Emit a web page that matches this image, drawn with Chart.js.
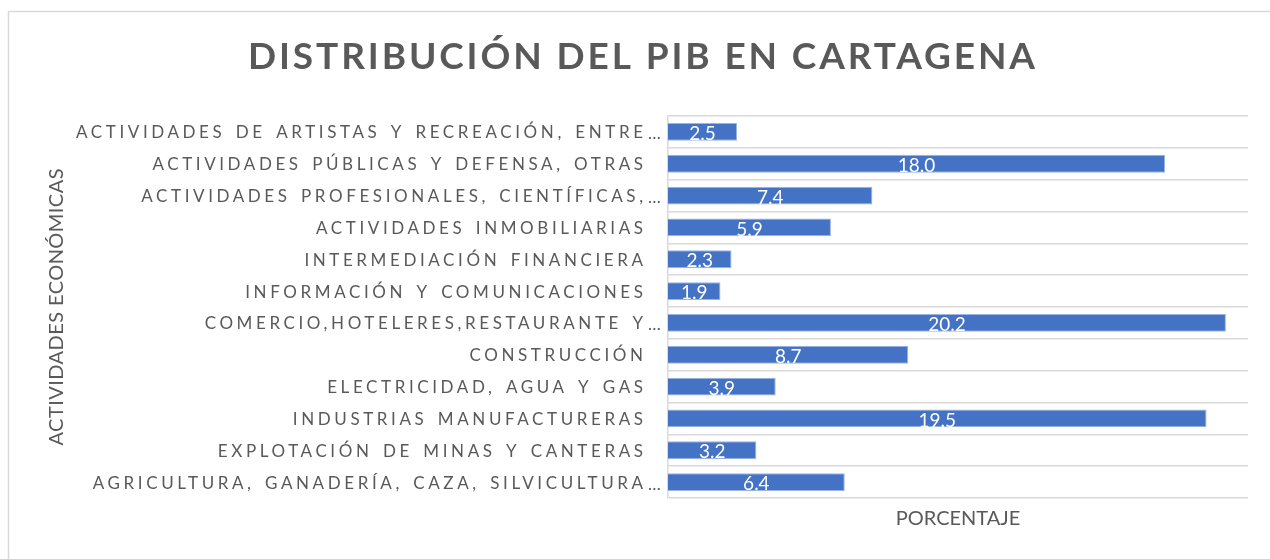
<!DOCTYPE html>
<html>
<head>
<meta charset="utf-8">
<script src="https://cdn.jsdelivr.net/npm/chart.js@4.4.1/dist/chart.umd.min.js"></script>
<style>
html, body { margin: 0; padding: 0; background: #fff; }
canvas { display: block; }
</style>
</head>
<body>
<canvas id="pib" width="1270" height="559"></canvas>
<script>
// datos (porcentaje del PIB por actividad)
var categorias = [
    'ACTIVIDADES DE ARTISTAS Y RECREACIÓN, ENTRE…',
    'ACTIVIDADES PÚBLICAS Y DEFENSA, OTRAS',
    'ACTIVIDADES PROFESIONALES, CIENTÍFICAS,…',
    'ACTIVIDADES INMOBILIARIAS',
    'INTERMEDIACIÓN FINANCIERA',
    'INFORMACIÓN Y COMUNICACIONES',
    'COMERCIO,HOTELERES,RESTAURANTE Y…',
    'CONSTRUCCIÓN',
    'ELECTRICIDAD, AGUA Y GAS',
    'INDUSTRIAS MANUFACTURERAS',
    'EXPLOTACIÓN DE MINAS Y CANTERAS',
    'AGRICULTURA, GANADERÍA, CAZA, SILVICULTURA…'
];
var porcentajes = [2.5, 18.0, 7.4, 5.9, 2.3, 1.9, 20.2, 8.7, 3.9, 19.5, 3.2, 6.4];
var titulo = 'DISTRIBUCIÓN DEL PIB EN CARTAGENA';
var tituloEjeY = 'ACTIVIDADES ECONÓMICAS';
var tituloEjeX = 'PORCENTAJE';

var gris = '#595959';
var fuente = 'Lato, "Open Sans", sans-serif';

// dibuja texto con espaciado entre letras, alineado a la izquierda desde x
function escribir(ctx, texto, x, y, espacio, palabra) {
    ctx.letterSpacing = espacio + 'px';
    ctx.wordSpacing = (palabra || 0) + 'px';
    ctx.textAlign = 'left';
    ctx.fillText(texto, x, y);
    ctx.letterSpacing = '0px';
    ctx.wordSpacing = '0px';
}
function anchoTexto(ctx, texto, espacio, palabra) {
    ctx.letterSpacing = '0px';
    ctx.wordSpacing = '0px';
    var espacios = texto.split(' ').length - 1;
    return ctx.measureText(texto).width + espacio * (texto.length - 1) + (palabra || 0) * espacios;
}

var textosPlugin = {
    id: 'textos',
    beforeDraw: function(chart) {
        var ctx = chart.ctx;
        ctx.save();
        ctx.strokeStyle = '#d9d9d9';
        ctx.lineWidth = 1.5;
        ctx.strokeRect(8.5, 11.5, 1400, 700);
        ctx.restore();
    },
    afterDraw: function(chart) {
        var ctx = chart.ctx;
        var area = chart.chartArea;
        var yScale = chart.scales.y;
        ctx.save();
        ctx.fillStyle = gris;
        ctx.textBaseline = 'middle';

        // titulo
        ctx.font = 'bold 37px ' + fuente;
        var w0 = anchoTexto(ctx, titulo, 0);
        var esp = (787 - w0) / (titulo.length - 1);
        escribir(ctx, titulo, 248, 57, esp);

        // etiquetas de categorias
        ctx.font = '17px ' + fuente;
        var espEt = 3.6, espPal = 2.5;
        categorias.forEach(function(c, i) {
            var y = yScale.getPixelForTick(i) + 1;
            var cortado = c.endsWith('…');
            var base = cortado ? c.slice(0, -1) : c;
            var w = anchoTexto(ctx, base, espEt, espPal);
            escribir(ctx, base, 643 - w, y, espEt, espPal);
            if (cortado) escribir(ctx, '…', 648, y + 1, 0);
        });

        // titulo eje y
        ctx.font = '20px ' + fuente;
        var wy = anchoTexto(ctx, tituloEjeY, 0);
        var espY = (277 - wy) / (tituloEjeY.length - 1);
        ctx.translate(57, (area.top + area.bottom) / 2);
        ctx.rotate(-Math.PI / 2);
        escribir(ctx, tituloEjeY, -277 / 2, 0, espY);
        ctx.setTransform(1, 0, 0, 1, 0, 0);

        // titulo eje x
        ctx.font = '20px ' + fuente;
        ctx.textAlign = 'center';
        ctx.fillText(tituloEjeX, (area.left + area.right) / 2, 519);

        // valores dentro de las barras
        ctx.fillStyle = '#ffffff';
        ctx.font = '19px ' + fuente;
        ctx.textAlign = 'center';
        chart.getDatasetMeta(0).data.forEach(function(bar, i) {
            ctx.fillText(porcentajes[i].toFixed(1), (bar.x + bar.base) / 2, bar.y + 2);
        });
        ctx.restore();
    }
};

var ctxPib = document.getElementById('pib');
var graficoPib = new Chart(ctxPib, {
    type: 'bar',
    data: {
        labels: categorias,
        datasets: [{
            data: porcentajes,
            backgroundColor: '#4472c4',
            borderColor: '#9db4df',
            borderWidth: 1,
            categoryPercentage: 1,
            barPercentage: 0.56
        }]
    },
    options: {
        indexAxis: 'y',
        responsive: false,
        animation: false,
        events: [],
        layout: {
            padding: { left: 668, right: 22, top: 116, bottom: 61 }
        },
        scales: {
            x: {
                display: false,
                min: 0,
                max: 21
            },
            y: {
                offset: true,
                afterFit: function(s) { s.width = 0; },
                ticks: { display: false },
                grid: {
                    offset: true,
                    color: '#d9d9d9',
                    lineWidth: 1.5,
                    drawTicks: false
                },
                border: { display: true, color: '#d9d9d9', width: 1.5 }
            }
        },
        plugins: {
            legend: { display: false },
            tooltip: { enabled: false },
            title: { display: false }
        }
    },
    plugins: [textosPlugin]
});
</script>
</body>
</html>
